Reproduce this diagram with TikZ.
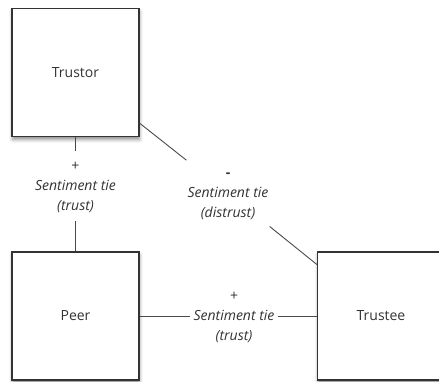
\documentclass[tikz,border=0pt]{standalone}
\usepackage{fontspec}
\setmainfont{Open Sans}
\usetikzlibrary{shadows.blur}
\definecolor{ink}{HTML}{333333}
\definecolor{edgegray}{HTML}{4A4A4A}
\begin{document}
\begin{tikzpicture}[x=1pt,y=-1pt,
  actor/.style={draw=ink, line width=1.3pt, fill=white,
    minimum width=127pt, minimum height=128pt, inner sep=0pt,
    font=\fontsize{14}{20}\selectfont, text=ink,
    blur shadow={shadow xshift=0.5pt, shadow yshift=-3pt,
      shadow blur radius=3.5pt, shadow opacity=45}},
  tie/.style={align=center, font=\fontsize{14}{20}\selectfont, text=ink,
    inner xsep=1pt, inner ysep=4pt},
  link/.style={draw=edgegray, line width=0.9pt}]
\useasboundingbox (0,0) rectangle (439,381);
\clip (0,0) rectangle (439,381);
\node[actor] (trustor) at (75.5,72.5) {Trustor};
\node[actor] (peer) at (75.5,316) {Peer};
\node[actor] (trustee) at (381,316) {Trustee};
\node[tie, inner ysep=5pt] (tieA) at (75.5,186) {\strut+\\\strut\textit{Sentiment tie}\\\strut\textit{(trust)}};
\node[tie] (tieB) at (228,193) {\strut\textbf{-}\\\strut\textit{Sentiment tie}\\\strut\textit{(distrust)}};
\node[tie, inner xsep=3pt] (tieC) at (234,316) {\strut+\\\strut\textit{Sentiment tie}\\\strut\textit{(trust)}};
\draw[link] (trustor) -- (tieA);
\draw[link] (tieA) -- (peer);
\draw[link] (trustor) -- (tieB);
\draw[link] (tieB) -- (trustee);
\draw[link] (peer) -- (tieC);
\draw[link] (tieC) -- (trustee);
\end{tikzpicture}
\end{document}
